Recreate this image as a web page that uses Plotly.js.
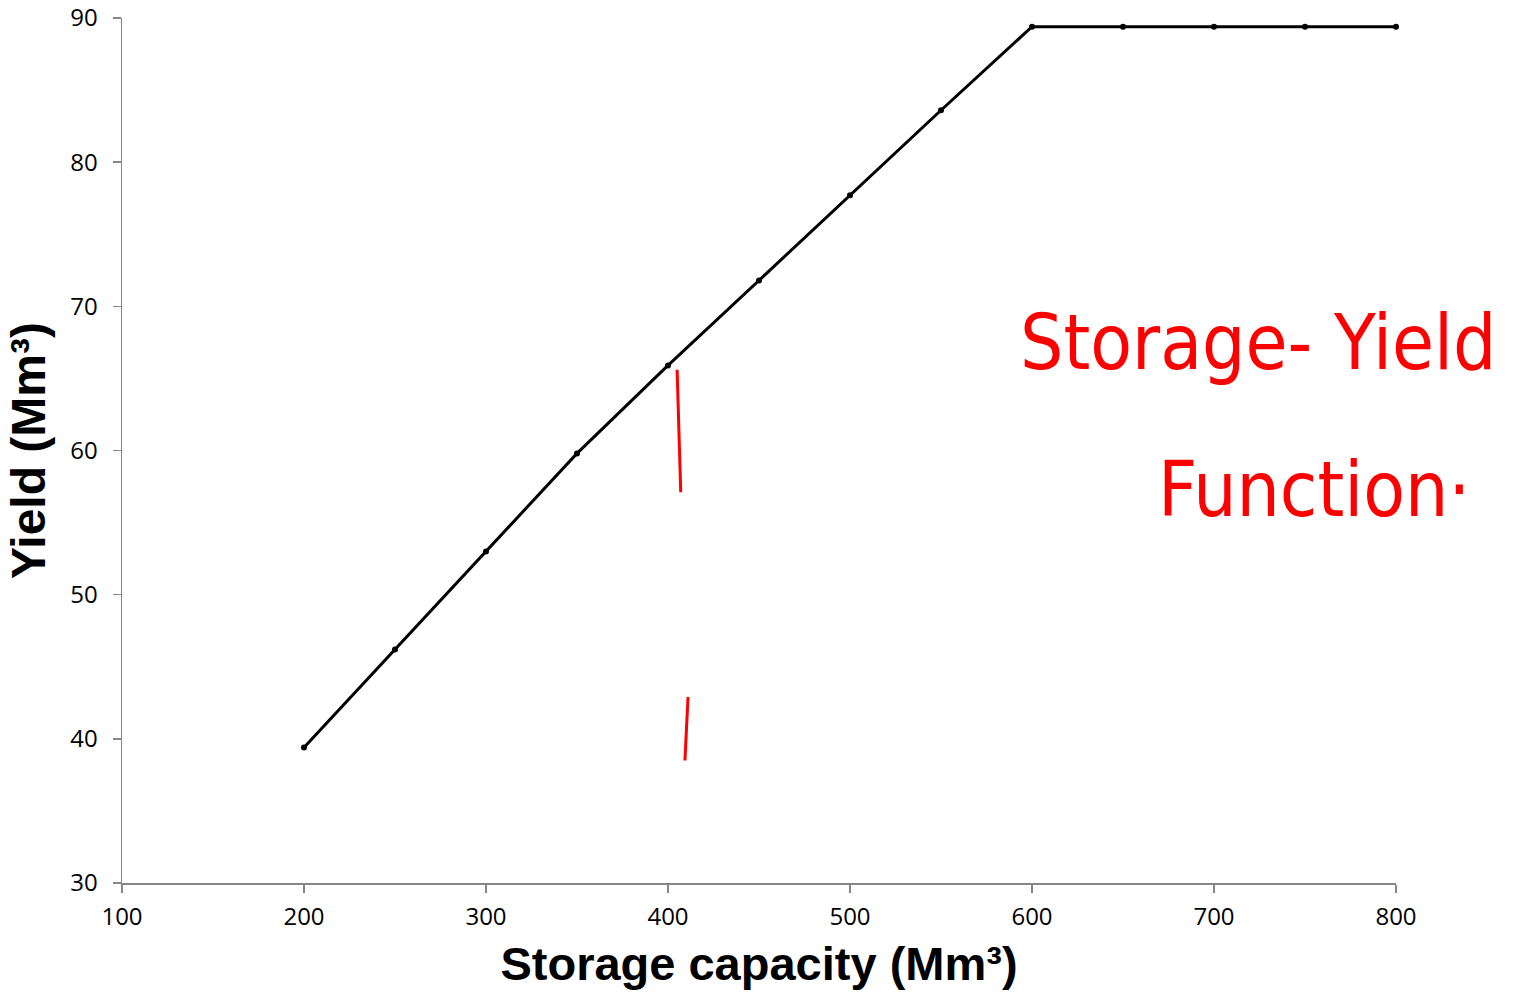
<!DOCTYPE html>
<html>
<head>
<meta charset="utf-8">
<script src="https://cdn.plot.ly/plotly-3.0.1.min.js"></script>
<style>html,body{margin:0;padding:0;background:#fff;}#chart{width:1518px;height:998px;}</style>
</head>
<body>
<div id="chart"></div>
<script>
const storage = [200, 250, 300, 350, 400, 450, 500, 550, 600, 650, 700, 750, 800];
const yieldVals = [39.4, 46.2, 53.0, 59.8, 65.9, 71.8, 77.7, 83.6, 89.4, 89.4, 89.4, 89.4, 89.4];
const xTickVals = [100, 200, 300, 400, 500, 600, 700, 800];
const yTickVals = [30, 40, 50, 60, 70, 80, 90];
const xTitle = 'Storage capacity (Mm³)';
const yTitle = 'Yield (Mm³)';
const noteLine1 = 'Storage- Yield';
const noteLine2 = 'Function·';
// hand-drawn red strokes (data coordinates)
const strokeX0 = [405, 411];
const strokeY0 = [65.6, 42.9];
const strokeX1 = [407, 409.3];
const strokeY1 = [57.1, 38.5];

const trace = {
  x: storage, y: yieldVals, type: 'scatter', mode: 'lines+markers',
  line: {color: '#000000', width: 3},
  marker: {color: '#000000', size: 6},
  cliponaxis: false, showlegend: false, hoverinfo: 'none'
};

const shapes = strokeX0.map((x0, i) => ({
  type: 'line', xref: 'x', yref: 'y',
  x0: x0, y0: strokeY0[i], x1: strokeX1[i], y1: strokeY1[i],
  line: {color: '#ff0000', width: 3}
}));

const axisCommon = {
  showgrid: false, zeroline: false, showline: true,
  linecolor: '#868686', linewidth: 1.5,
  ticks: 'outside', tickcolor: '#868686', tickwidth: 1.5, ticklen: 8,
  tickfont: {family: 'Open Sans, sans-serif', size: 24, color: '#000000'}
};

const xTitleFont = {family: 'Liberation Sans, Arial, sans-serif', size: 47, color: '#000000', weight: 'bold'};
const yTitleFont = {family: 'Liberation Sans, Arial, sans-serif', size: 48, color: '#000000', weight: 'bold'};

const layout = {
  width: 1518, height: 998,
  margin: {l: 122, r: 122, t: 18, b: 115},
  paper_bgcolor: '#ffffff', plot_bgcolor: '#ffffff',
  showlegend: false,
  xaxis: Object.assign({}, axisCommon, {
    range: [100, 800], tickmode: 'array', tickvals: xTickVals,
    ticklabelstandoff: 4,
    title: {text: xTitle, standoff: 16, font: xTitleFont}
  }),
  yaxis: Object.assign({}, axisCommon, {
    range: [30, 90], tickmode: 'array', tickvals: yTickVals,
    ticklabelstandoff: 10,
    title: {text: yTitle, standoff: 9, font: yTitleFont}
  }),
  shapes: shapes,
  annotations: [
    {xref: 'paper', yref: 'paper', x: 0.892, y: 0.625, text: noteLine1, showarrow: false,
     xanchor: 'center', yanchor: 'middle',
     font: {family: 'Liberation Sans Narrow, DejaVu Sans Condensed, sans-serif', size: 76, color: '#ff0000'}},
    {xref: 'paper', yref: 'paper', x: 0.936, y: 0.455, text: noteLine2, showarrow: false,
     xanchor: 'center', yanchor: 'middle',
     font: {family: 'Liberation Sans Narrow, DejaVu Sans Condensed, sans-serif', size: 76, color: '#ff0000'}}
  ]
};

Plotly.newPlot('chart', [trace], layout, {staticPlot: true, displayModeBar: false});
</script>
</body>
</html>
